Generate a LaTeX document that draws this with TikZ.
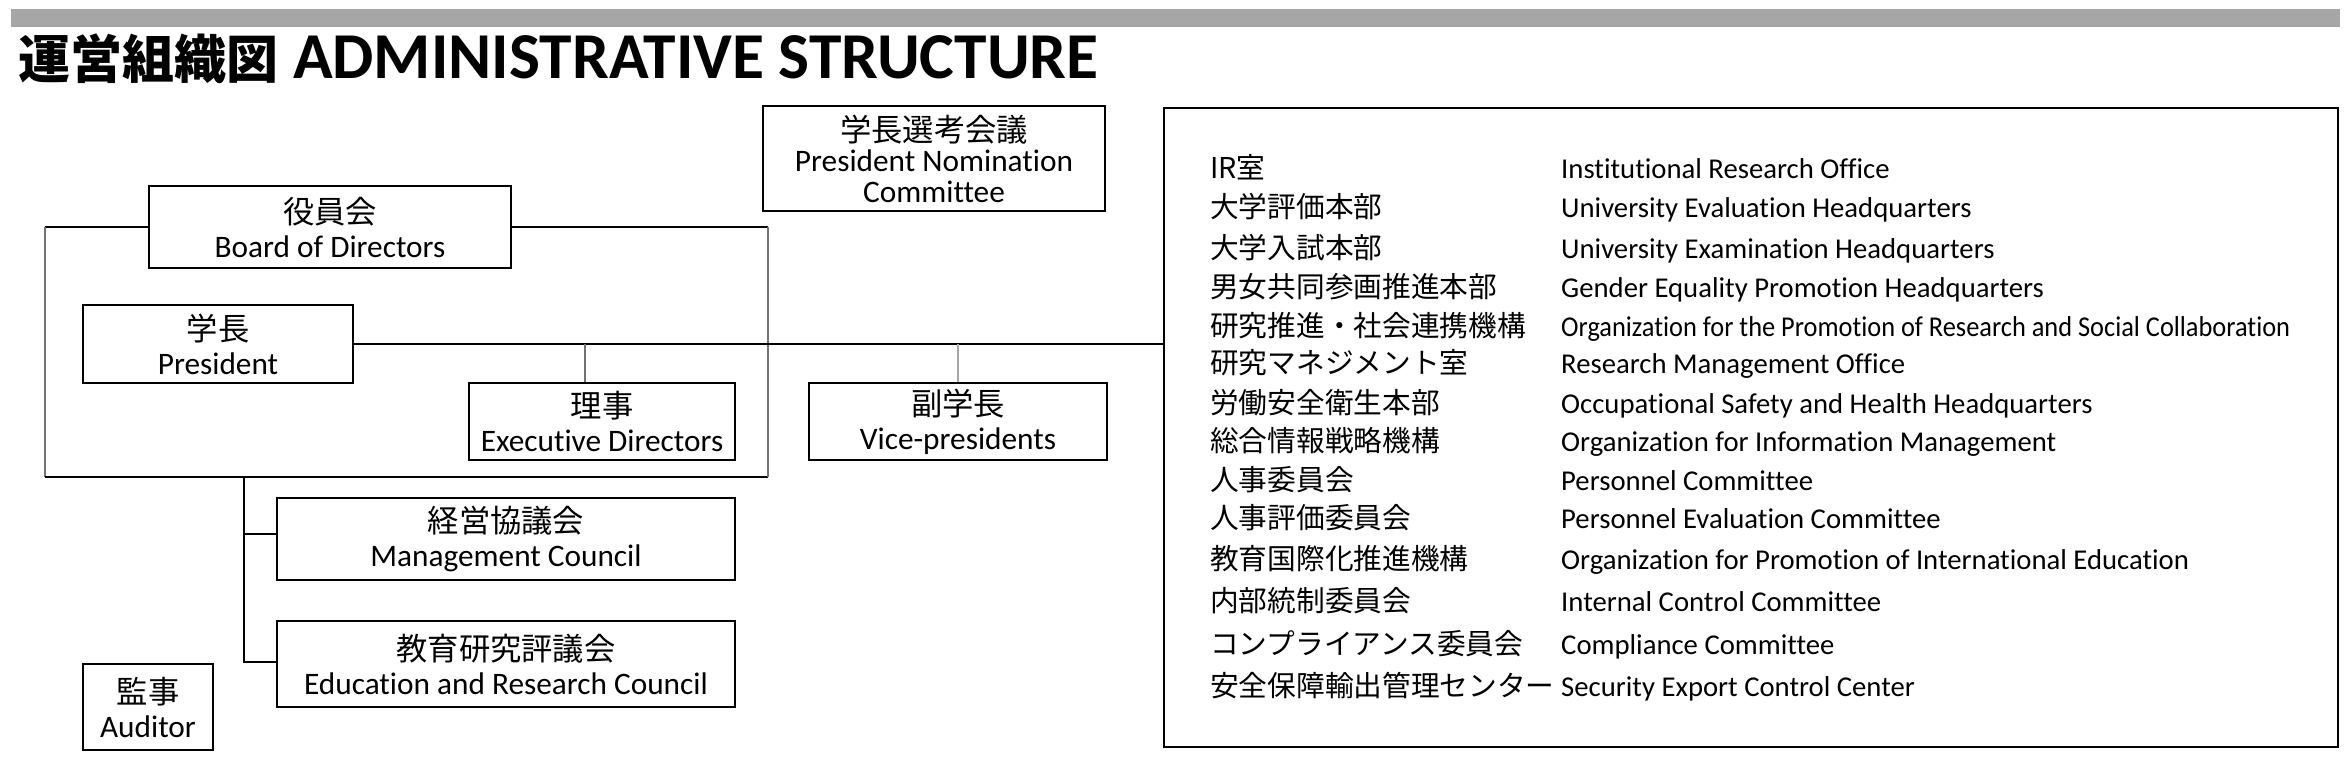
\documentclass[tikz,border=0pt]{standalone}
\usepackage{fontspec}
\usepackage{graphicx}
\setmainfont{Carlito}[Ligatures=NoCommon]
\newfontfamily\jp{Noto Sans CJK JP}
\definecolor{barcol}{HTML}{A6A6A6}
\begin{document}
\begin{tikzpicture}[x=1pt,y=-1pt,
  box/.style={draw, line width=2.8pt, inner sep=0pt, align=center, font=\fontsize{31.3}{34}\selectfont},
  conn/.style={line width=1.5pt, black},
  gconn/.style={line width=1.4pt, black!55},
  lconn/.style={line width=1.3pt, black!35},
  item/.style={anchor=base west, inner sep=0pt, font=\fontsize{28.7}{34}\selectfont}]
\useasboundingbox[fill=white] (0,0) rectangle (2350,760);
\fill[barcol] (11,9) rectangle (2340,27);
\node[anchor=base west, inner sep=0pt, font=\bfseries] (title) at (18,78)
  {{\jp\fontsize{52}{60}\selectfont 運営組織図}\fontsize{65.5}{70}\selectfont\ ADMINISTRATIVE STRUCTURE};

% boxes
\node[box, minimum width=342pt, minimum height=105pt, font=\fontsize{31.3}{30.5}\selectfont] (pnc) at (934,158.5) {{\jp 学長選考会議}\\President Nomination\\Committee};
\node[box, minimum width=362pt, minimum height=82pt] (bod) at (330,227) {{\jp 役員会}\\Board of Directors};
\node[box, minimum width=270pt, minimum height=78pt] (pres) at (218,344) {{\jp 学長}\\President};
\node[box, minimum width=266pt, minimum height=77pt] (exec) at (602,421.5) {{\jp 理事}\\Executive Directors};
\node[box, minimum width=298pt, minimum height=77pt] (vp) at (958,421.5) {{\jp 副学長}\\Vice-presidents};
\node[box, minimum width=458pt, minimum height=82pt] (mgmt) at (506,539) {{\jp 経営協議会}\\Management Council};
\node[box, minimum width=458pt, minimum height=86pt] (edu) at (506,664) {{\jp 教育研究評議会}\\Education and Research Council};
\node[box, minimum width=130pt, minimum height=86pt] (aud) at (148,707) {{\jp 監事}\\Auditor};
\node[draw, line width=2.8pt, minimum width=1174pt, minimum height=639pt, inner sep=0pt] (list) at (1751,427.5) {};

% list items
\node[item] (j1) at (1210,178) {\jp IR室};
\node[item] (e1) at (1561,178) {Institutional Research Office};
\node[item] (j2) at (1210,217.5) {\jp 大学評価本部};
\node[item] (e2) at (1561,217.5) {University Evaluation Headquarters};
\node[item] (j3) at (1210,258) {\jp 大学入試本部};
\node[item] (e3) at (1561,258) {University Examination Headquarters};
\node[item] (j4) at (1210,297) {\jp 男女共同参画推進本部};
\node[item] (e4) at (1561,297) {Gender Equality Promotion Headquarters};
\node[item] (j5) at (1210,336) {\jp 研究推進・社会連携機構};
\node[item] (e5) at (1561,336) {\resizebox{729pt}{\height}{Organization for the Promotion of Research and Social Collaboration}};
\node[item] (j6) at (1210,373.5) {\jp 研究マネジメント室};
\node[item] (e6) at (1561,373.5) {Research Management Office};
\node[item] (j7) at (1210,413) {\jp 労働安全衛生本部};
\node[item] (e7) at (1561,413) {Occupational Safety and Health Headquarters};
\node[item] (j8) at (1210,451) {\jp 総合情報戦略機構};
\node[item] (e8) at (1561,451) {Organization for Information Management};
\node[item] (j9) at (1210,490) {\jp 人事委員会};
\node[item] (e9) at (1561,490) {Personnel Committee};
\node[item] (j10) at (1210,528) {\jp 人事評価委員会};
\node[item] (e10) at (1561,528) {Personnel Evaluation Committee};
\node[item] (j11) at (1210,569) {\jp 教育国際化推進機構};
\node[item] (e11) at (1561,569) {Organization for Promotion of International Education};
\node[item] (j12) at (1210,611) {\jp 内部統制委員会};
\node[item] (e12) at (1561,611) {Internal Control Committee};
\node[item] (j13) at (1210,654) {\jp コンプライアンス委員会};
\node[item] (e13) at (1561,654) {Compliance Committee};
\node[item] (j14) at (1210,696) {\jp 安全保障輸出管理センター};
\node[item] (e14) at (1561,696) {Security Export Control Center};

% connectors
\coordinate (tl) at (45,227);
\coordinate (tr) at (768,227);
\coordinate (bl) at (45,477);
\coordinate (br) at (768,477);
\draw[conn] (bod.west) -- (tl);
\draw[conn] (bod.east) -- (tr);
\draw[gconn] (tl) -- (bl);
\draw[conn] (bl) -- (br);
\draw[gconn] (tr) -- (br);
\draw[conn] (pres.east) -- (pres.east -| list.west);
\coordinate (ed) at ([xshift=-17pt]exec.north);
\draw[gconn] (ed |- pres.east) -- (ed);
\draw[lconn] (vp.north |- pres.east) -- (vp.north);
\coordinate (st) at (244,477);
\coordinate (mj) at ([yshift=5pt]mgmt.west);
\coordinate (ej) at ([yshift=2pt]edu.west);
\draw[conn] (st) |- (ej);
\draw[conn] (mj) -- (mj -| st);
\end{tikzpicture}
\end{document}
